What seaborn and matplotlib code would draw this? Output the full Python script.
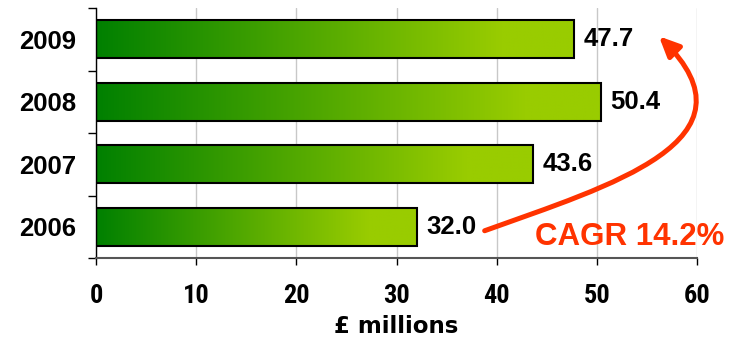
import numpy as np
import pandas as pd
import matplotlib
matplotlib.use("Agg")
import matplotlib.pyplot as plt
from matplotlib import font_manager
from matplotlib.path import Path
from matplotlib.patches import FancyArrowPatch
import seaborn as sns

# Revenue by year, £ millions
years = ["2009", "2008", "2007", "2006"]
revenue = [47.7, 50.4, 43.6, 32.0]
x_ticks = [0, 10, 20, 30, 40, 50, 60]
x_label = "£ millions"
cagr_text = "CAGR 14.2%"

sns.set_theme(style="white")
plt.rcParams["font.family"] = ["Liberation Sans", "DejaVu Sans"]
plt.rcParams["text.color"] = "black"
plt.rcParams["xtick.color"] = "black"
plt.rcParams["ytick.color"] = "black"
plt.rcParams["axes.labelcolor"] = "black"

# Pick a condensed face for the x tick labels if one is installed
installed = {f.name for f in font_manager.fontManager.ttflist}
condensed_stretch = {f.name for f in font_manager.fontManager.ttflist
                     if "condensed" in str(f.stretch)}
narrow_family = None
narrow_stretch = "normal"
for cand in ["Liberation Sans Narrow", "Roboto Condensed", "Open Sans Condensed",
             "DejaVu Sans Condensed", "Noto Sans Condensed"]:
    if cand in installed:
        narrow_family = cand
        break
if narrow_family is None:
    for cand in ["Liberation Sans", "Roboto", "Open Sans", "Noto Sans", "DejaVu Sans"]:
        if cand in condensed_stretch:
            narrow_family = cand
            narrow_stretch = "condensed"
            break
if narrow_family is None:
    narrow_family = "Liberation Sans"
narrow = [narrow_family, "Liberation Sans", "DejaVu Sans"]

df = pd.DataFrame({"year": years, "revenue": revenue})

fig = plt.figure(figsize=(7.38, 3.40), dpi=100)
ax = fig.add_axes([96 / 738, 1 - 258 / 340, 601 / 738, 250 / 340])

sns.barplot(data=df, x="revenue", y="year", order=years, orient="h",
            width=0.61, color="#008000", edgecolor="black", linewidth=1.5,
            ax=ax, zorder=3)

# Left-to-right green gradient inside each bar
dark = np.array([0, 128, 0]) / 255
light = np.array([153, 204, 0]) / 255
n = 256
f = np.clip(np.linspace(0, 1, n) / 0.85, 0, 1)
grad = (dark[None, :] * (1 - f[:, None]) + light[None, :] * f[:, None])[None, :, :]

for patch in ax.patches:
    x0, y0 = patch.get_x(), patch.get_y()
    w, h = patch.get_width(), patch.get_height()
    im = ax.imshow(grad, extent=[x0, x0 + w, y0 + h, y0], aspect="auto",
                   interpolation="bilinear", zorder=2.5)
    im.set_clip_path(patch)
    patch.set_facecolor("none")

# Value labels
for container in ax.containers:
    ax.bar_label(container, fmt="%.1f", padding=7, fontsize=18.5,
                 fontweight="bold", color="black")

ax.set_xlim(0, 60)
ax.set_ylim(3.5, -0.5)
ax.set_xticks(x_ticks)
ax.set_xticklabels([str(t) for t in x_ticks], family=narrow,
                   stretch=narrow_stretch, fontsize=19, fontweight="bold",
                   color="black")
ax.set_xlabel(x_label, family=["DejaVu Sans"], fontsize=16.5,
              fontweight="bold", labelpad=5, color="black")
ax.set_ylabel("")
ax.tick_params(axis="y", which="major", length=0, pad=14, labelsize=18.5,
               labelcolor="black")
for lbl in ax.get_yticklabels():
    lbl.set_fontweight("bold")
ax.set_yticks([-0.5, 0.5, 1.5, 2.5, 3.5], minor=True)
ax.tick_params(axis="y", which="minor", left=True, length=6, width=1,
               color="black")
ax.tick_params(axis="x", which="major", bottom=True, direction="out",
               length=5, width=1, color="black", pad=14)

ax.grid(axis="x", color="#c8c8c8", linewidth=1)
ax.grid(axis="y", visible=False)
ax.set_axisbelow(True)

for side in ["top", "right"]:
    ax.spines[side].set_visible(False)
ax.spines["left"].set_color("black")
ax.spines["left"].set_linewidth(1)
ax.spines["bottom"].set_color("#555555")
ax.spines["bottom"].set_linewidth(1.5)

# Curved growth arrow from 2006 up to 2009
verts = [(38.8, 3.064), (51.3, 2.342), (66.8, 1.62), (56.2, -0.048)]
codes = [Path.MOVETO, Path.CURVE4, Path.CURVE4, Path.CURVE4]
arrow = FancyArrowPatch(path=Path(verts, codes),
                        arrowstyle="-|>,head_length=12,head_width=5.5",
                        color="#ff3300", linewidth=3.6, zorder=5,
                        clip_on=False, transform=ax.transData)
ax.add_patch(arrow)

ax.text(43.8, 3.165, cagr_text, color="#ff3300", fontsize=22.5,
        fontweight="bold", ha="left", va="center", zorder=6, clip_on=False)

fig.savefig("out.png", dpi=100)
